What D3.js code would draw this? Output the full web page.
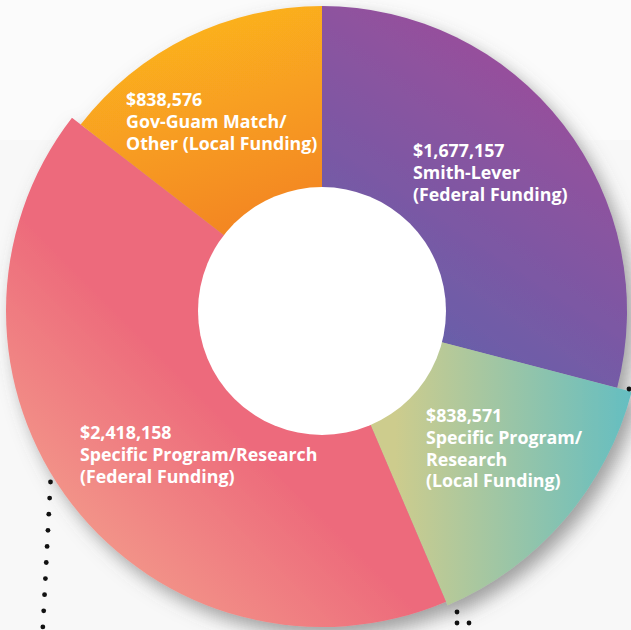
<!DOCTYPE html>
<html>
<head>
<meta charset="utf-8">
<script src="https://cdn.jsdelivr.net/npm/d3@7"></script>
<style>
  html, body { margin: 0; padding: 0; background: #f8f8f8; }
  svg { display: block; }
</style>
</head>
<body>
<svg id="chart"></svg>
<script>
const w = 631;
const h = 630;

// funding sources, clockwise from 12 o'clock
const amounts = [1677157, 838571, 2418158, 838576];
const amountLabels = ['$1,677,157', '$838,571', '$2,418,158', '$838,576'];
const descriptions = [
  ['Smith-Lever', '(Federal Funding)'],
  ['Specific Program/', 'Research', '(Local Funding)'],
  ['Specific Program/Research', '(Federal Funding)'],
  ['Gov-Guam Match/', 'Other (Local Funding)']
];

const cx = 322, cy = 311;
const INNER = 124;
const outerRadii = [305, 320, 316, 305];

// gradient ends in page coordinates
const grads = [
  { id: 'g0', x1: 610, y1: 60, x2: 430, y2: 330, c1: '#a14c99', c2: '#6a5ea9' },
  { id: 'g1', x1: 395, y1: 400, x2: 631, y2: 400, c1: '#cdcc8d', c2: '#65bec1' },
  { id: 'g2', x1: 230, y1: 420, x2: 60, y2: 590, c1: '#ed6a7b', c2: '#f4a28d' },
  { id: 'g3', x1: 230, y1: 20, x2: 300, y2: 240, c1: '#fbb01f', c2: '#f28022' }
];
// label anchor (left edge, first baseline)
const labelPos = [[413, 157], [426, 422], [80, 439], [126, 106]];

const svg = d3.select('#chart').attr('width', w).attr('height', h);
const defs = svg.append('defs');

grads.forEach(g => {
  const lg = defs.append('linearGradient')
    .attr('id', g.id)
    .attr('gradientUnits', 'userSpaceOnUse')
    .attr('x1', g.x1 - cx).attr('y1', g.y1 - cy)
    .attr('x2', g.x2 - cx).attr('y2', g.y2 - cy);
  lg.append('stop').attr('offset', '0%').attr('stop-color', g.c1);
  lg.append('stop').attr('offset', '100%').attr('stop-color', g.c2);
});

const shadow = defs.append('filter').attr('id', 'shadow')
  .attr('x', '-20%').attr('y', '-20%').attr('width', '140%').attr('height', '140%');
shadow.append('feDropShadow')
  .attr('dx', 7).attr('dy', 9).attr('stdDeviation', 9)
  .attr('flood-color', '#555').attr('flood-opacity', 0.55);

// faint backdrop
svg.append('rect').attr('width', w).attr('height', h).attr('fill', '#f8f8f8');
svg.append('rect').attr('width', w).attr('height', 140).attr('fill', '#fbfbfb');

const pie = d3.pie().sort(null).value(d => d);
const arcs = pie(amounts);

const slices = svg.append('g')
  .attr('transform', `translate(${cx},${cy})`)
  .attr('filter', 'url(#shadow)');

slices.selectAll('path')
  .data(arcs)
  .enter()
  .append('path')
  .attr('d', (d, i) => d3.arc().innerRadius(0).outerRadius(outerRadii[i])(d))
  .attr('fill', (d, i) => `url(#${grads[i].id})`);

// hole
svg.append('circle')
  .attr('cx', cx).attr('cy', cy).attr('r', INNER)
  .attr('fill', '#ffffff');

// decorative dotted lines
const dotsLeft = d3.range(10).map(i => [50.5 - i * 0.85, 482 + i * 16.1]);
const dotsOther = [[629, 389], [457, 612], [457, 623], [469, 623]];
svg.append('g').selectAll('circle')
  .data(dotsLeft.concat(dotsOther))
  .enter().append('circle')
  .attr('cx', d => d[0]).attr('cy', d => d[1]).attr('r', 2.4)
  .attr('fill', '#111');

// labels
const labels = svg.append('g')
  .attr('font-family', '"Open Sans", Lato, sans-serif')
  .attr('font-weight', 700)
  .attr('font-size', 17.8)
  .attr('fill', '#ffffff');

arcs.forEach((d, i) => {
  const t = labels.append('text')
    .attr('x', labelPos[i][0]).attr('y', labelPos[i][1]);
  [amountLabels[i]].concat(descriptions[i]).forEach((line, j) => {
    t.append('tspan')
      .attr('x', labelPos[i][0])
      .attr('dy', j === 0 ? 0 : 21.8)
      .text(line);
  });
});
</script>
</body>
</html>
